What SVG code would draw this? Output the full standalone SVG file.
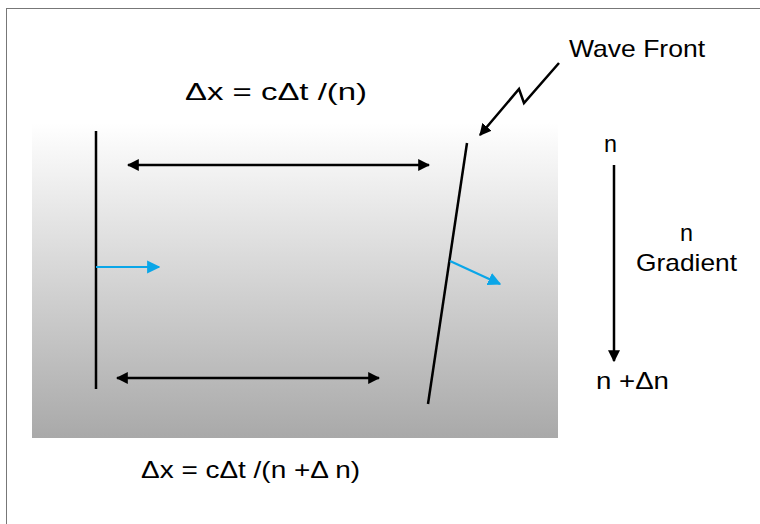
<svg xmlns="http://www.w3.org/2000/svg" width="760" height="524" viewBox="0 0 760 524">
<defs>
<linearGradient id="bg" x1="0" y1="0" x2="0" y2="1">
<stop offset="0" stop-color="#ffffff"/>
<stop offset="1" stop-color="#a9a9a9"/>
</linearGradient>
<marker id="ah" viewBox="0 0 10 10" refX="9" refY="5" markerWidth="4.8" markerHeight="4.8" orient="auto-start-reverse" markerUnits="strokeWidth">
<path d="M0,0 L10,5 L0,10 Z" fill="#000"/>
</marker>
<marker id="bh" viewBox="0 0 10 10" refX="9" refY="5" markerWidth="6" markerHeight="6" orient="auto" markerUnits="strokeWidth">
<path d="M0,0 L10,5 L0,10 Z" fill="#0aa6e8"/>
</marker>
</defs>
<style>
text{font-family:"Liberation Sans",Arial,sans-serif;font-size:24px;fill:#000}
.k{stroke:#000;stroke-width:2.5;fill:none}
.b{stroke:#0aa6e8;stroke-width:2.2;fill:none}
</style>
<rect x="6.5" y="8.5" width="800" height="600" fill="#fff" stroke="#777" stroke-width="1"/>
<rect id="medium" x="32" y="123" width="526" height="315" fill="url(#bg)"/>
<g id="connectors">
<line class="k" x1="96" y1="131" x2="96" y2="389"/>
<line class="k" x1="467" y1="143" x2="428" y2="404"/>
<line class="k" x1="128" y1="165" x2="429" y2="165" marker-start="url(#ah)" marker-end="url(#ah)"/>
<line class="k" x1="117" y1="378" x2="379" y2="378" marker-start="url(#ah)" marker-end="url(#ah)"/>
<line class="b" x1="96" y1="267" x2="159" y2="267" marker-end="url(#bh)"/>
<line class="b" x1="450" y1="261" x2="500" y2="284" marker-end="url(#bh)"/>
<polyline class="k" points="559,63 524,103 519,89 480,135" marker-end="url(#ah)"/>
<line class="k" x1="614" y1="165" x2="614" y2="361" marker-end="url(#ah)"/>
</g>
<g id="wavefront-label"><text x="569" y="57" textLength="136" lengthAdjust="spacingAndGlyphs">Wave Front</text></g>
<g id="top-formula"><text x="185" y="100" textLength="182" lengthAdjust="spacingAndGlyphs">Δx = cΔt /(n)</text></g>
<g id="n-top"><text x="604" y="152" textLength="13" lengthAdjust="spacingAndGlyphs">n</text></g>
<g id="gradient-label"><text x="680" y="241" textLength="13" lengthAdjust="spacingAndGlyphs">n</text><text x="636" y="271" textLength="101" lengthAdjust="spacingAndGlyphs">Gradient</text></g>
<g id="n-bottom"><text x="596" y="389" textLength="73" lengthAdjust="spacingAndGlyphs">n +Δn</text></g>
<g id="bottom-formula"><text x="141" y="478" textLength="219" lengthAdjust="spacingAndGlyphs">Δx = cΔt /(n +Δ  n)</text></g>
</svg>
